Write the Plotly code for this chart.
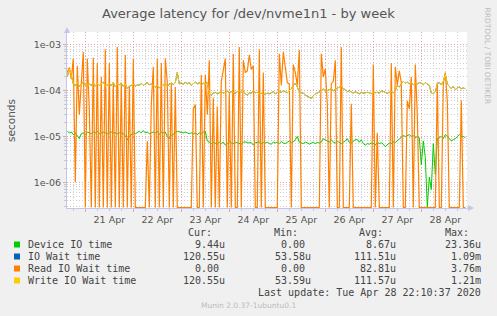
import plotly.graph_objects as go
import pandas as pd

# ---------------- data (microseconds, hourly samples) ----------------
start_time = "2020-04-20 15:00"
n_points = 200

device_io_us = [
    13, 12, 12.5, 11, 12, 10, 9, 11.5, 12, 11, 12.5, 12, 11.5, 12.5, 12, 13, 11.5, 12, 12.5, 12,
    11.5, 12, 12.5, 12, 12, 11.5, 12, 12, 11.5, 10.5, 8.5, 10, 11, 12, 11.5, 12.5, 13, 12, 13.5, 12,
    12.5, 11.5, 12, 12.5, 12, 13, 11, 12.5, 12, 12.5, 10, 9, 10.5, 11.5, 12, 13, 12.5, 12.5, 12, 12.5,
    12, 11.5, 12, 11.5, 12, 11, 12, 11.5, 12.5, 13, 8, 7.5, 7, 7.5, 7, 6.8, 7.5, 7, 7.5, 6.5,
    7, 7.8, 7.2, 7, 7.5, 7.3, 7, 6.8, 7.5, 7.6, 7.4, 7.2, 7.4, 6.5, 7.3, 7.5, 7.6, 7, 7.4, 7.2,
    7.5, 7, 6.8, 7.5, 7.2, 7.6, 7, 7.8, 7.2, 7, 7.5, 8, 7.3, 7.6, 8.5, 10, 7.5, 7.2, 7, 7.5,
    7.3, 6.8, 7.2, 7.5, 7, 7.4, 7.2, 7.5, 9, 8.5, 8, 7.5, 8.5, 7.5, 7.2, 7.8, 7.4, 7, 7.5, 8,
    9, 7.5, 7.2, 7.8, 8.5, 8.6, 7.5, 8.5, 7, 6.5, 7, 6.8, 7.2, 7, 6.5, 7.5, 7, 7.3, 6.8, 6,
    6.5, 7.2, 7, 7.6, 7.4, 8, 9, 9.5, 10.5, 10, 10.5, 11, 10, 10.5, 9.5, 10, 9.5, 2.4, 8, 3.5,
    0, 1.3, 0.7, 7, 1.5, 9, 9.5, 10, 9, 11, 10, 9, 8, 8.5, 9, 10, 11, 10, 10, 9.5,
]

write_wait_us = [
    200, 300, 220, 140, 130, 150, 125, 135, 160, 130, 120, 140, 130, 150, 125, 145, 130, 140, 155, 125,
    135, 140, 130, 150, 120, 140, 135, 145, 125, 140, 110, 125, 130, 140, 125, 135, 130, 145, 130, 140,
    150, 135, 140, 130, 120, 130, 115, 125, 135, 140, 125, 140, 145, 135, 150, 250, 140, 150, 135, 155,
    140, 150, 130, 145, 155, 140, 150, 135, 145, 140, 150, 85, 80, 88, 92, 85, 90, 95, 88, 92,
    98, 90, 95, 92, 88, 95, 100, 92, 98, 85, 80, 90, 88, 100, 90, 92, 85, 88, 82, 84,
    88, 85, 90, 95, 86, 90, 95, 92, 100, 95, 90, 100, 110, 130, 145, 120, 95, 90, 88, 80,
    75, 70, 68, 78, 85, 88, 92, 100, 110, 95, 100, 105, 110, 100, 105, 110, 120, 130, 110, 105,
    95, 100, 92, 88, 95, 90, 85, 92, 88, 90, 92, 90, 85, 95, 90, 92, 88, 100, 95, 90,
    88, 92, 95, 90, 100, 130, 120, 140, 160, 145, 155, 140, 150, 135, 145, 140, 150, 145, 135, 150,
    140, 130, 90, 85, 95, 140, 150, 135, 160, 230, 140, 120, 110, 125, 105, 115, 120, 110, 115, 110,
]

# IO wait time is drawn underneath the write wait time and matches it
io_wait_us = list(write_wait_us)

read_wait_us = [
    250, 320, 180, 500, 1, 350, 30, 160, 700, 0, 500, 40, 0, 520, 0, 400, 0, 200, 0, 800,
    0, 400, 0, 150, 0, 900, 0, 150, 0, 600, 0, 120, 0, 500, 0, 0, 0, 0, 0, 0,
    8, 0, 50, 330, 0, 500, 0, 400, 0, 500, 150, 0, 150, 0, 120, 0, 0, 0, 0, 0,
    0, 0, 0, 40, 50, 0, 0, 220, 0, 220, 30, 460, 0, 70, 0, 45, 0, 160, 300, 500,
    0, 90, 0, 640, 0, 0, 900, 0, 460, 250, 270, 600, 290, 350, 0, 0, 800, 0, 250, 0,
    0, 0, 0, 0, 0, 0, 640, 130, 700, 300, 150, 140, 0, 370, 250, 130, 770, 0, 0, 0,
    0, 0, 0, 0, 0, 0, 0, 640, 200, 300, 50, 0, 140, 160, 460, 0, 0, 900, 0, 0,
    0, 0, 52, 0, 0, 0, 0, 0, 0, 0, 0, 0, 0, 370, 0, 12, 0, 0, 0, 0,
    0, 0, 400, 0, 330, 130, 270, 150, 0, 0, 60, 40, 200, 0, 370, 30, 0, 0, 0, 0,
    0, 0, 0, 0, 0, 150, 0, 0, 140, 250, 60, 0, 0, 0, 0, 0, 0, 62, 0, 0,
]

series_names = ["Device IO time", "IO Wait time", "Read IO Wait time", "Write IO Wait time"]
series_colors = ["#00CC00", "#0066B3", "#FF8000", "#FFCC00"]
legend_cur = ["9.44u", "120.55u", "0.00", "120.55u"]
legend_min = ["0.00", "53.58u", "0.00", "53.59u"]
legend_avg = ["8.67u", "111.51u", "82.81u", "111.57u"]
legend_max = ["23.36u", "1.09m", "3.76m", "1.21m"]

y_tick_vals = [1e-6, 1e-5, 1e-4, 1e-3]
y_tick_text = ["1e-06", "1e-05", "1e-04", "1e-03"]

title_text = "Average latency for /dev/nvme1n1 - by week"
last_update = "Last update: Tue Apr 28 22:10:37 2020"
footer = "Munin 2.0.37-1ubuntu0.1"
side_text = "RRDTOOL / TOBI OETIKER"

# ---------------- figure ----------------
W, H = 497, 316
L, R, T, B = 67, 30, 32, 108
PW, PH = W - L - R, H - T - B
Y_LO, Y_HI = -6.56, -2.72
FLOOR = 10 ** -6.55  # zero values sit on the bottom edge, like rrdtool

times = pd.date_range(start_time, periods=n_points, freq="h")


def scaled(vals):
    return [v * 1e-6 if v > 0 else FLOOR for v in vals]


fig = go.Figure()
all_series = [device_io_us, io_wait_us, read_wait_us, write_wait_us]
widths = [1, 1, 1.2, 1]
for name, col, vals, w in zip(series_names, series_colors, all_series, widths):
    fig.add_trace(go.Scatter(x=times, y=scaled(vals), mode="lines", name=name,
                             line=dict(color=col, width=w), hoverinfo="skip",
                             showlegend=False))


def xp(px):
    return (px - L) / PW


def yp(py):
    return (T + PH - py) / PH


annotations = []


def ann(text, x, y, xanchor="left", size=10, color="#444444",
        family="DejaVu Sans Mono", angle=0):
    annotations.append(dict(text=text, x=xp(x), y=yp(y), xref="paper", yref="paper",
                            xanchor=xanchor, yanchor="middle", showarrow=False,
                            textangle=angle, font=dict(size=size, color=color, family=family)))


ann(title_text, 248, 13.5, xanchor="center", size=13, color="#555555", family="DejaVu Sans")
ann("seconds", 11, 120, xanchor="center", size=10.5, color="#555555", family="DejaVu Sans", angle=-90)
ann(side_text, 487.5, 56, xanchor="center", size=7.5, color="#BBBBBB", family="DejaVu Sans", angle=90)

row_y = [244.5, 256.5, 268.5, 280.5]
header_y = 232.5
for hdr, xr in zip(["Cur:", "Min:", "Avg:", "Max:"], [213.5, 299.5, 384.5, 470.5]):
    ann(hdr, xr, header_y, xanchor="right")

shapes = []
NB = "\u00a0"
col_right = [226.5, 312.5, 397.5, 483]
for r, (name, col) in enumerate(zip(series_names, series_colors)):
    y = row_y[r]
    shapes.append(dict(type="rect", xref="paper", yref="paper",
                       x0=xp(14), x1=xp(20), y0=yp(y + 3), y1=yp(y - 3),
                       fillcolor=col, line=dict(width=0)))
    ann(name, 26, y)
    for vals, xr in zip([legend_cur, legend_min, legend_avg, legend_max], col_right):
        v = vals[r]
        if not v.endswith(("u", "m")):
            v = v + NB
        ann(v, xr, y, xanchor="right")

ann(last_update, 483, 292.7, xanchor="right")
ann(footer, 248, 305.5, xanchor="center", size=7.5, color="#BBBBBB", family="DejaVu Sans")

# axis arrows
axis_col = "#C0C6F0"
shapes.append(dict(type="path", xref="paper", yref="paper",
                   path=f"M {xp(64)} {yp(33)} L {xp(70)} {yp(33)} L {xp(67)} {yp(27)} Z",
                   fillcolor=axis_col, line=dict(width=0)))
shapes.append(dict(type="path", xref="paper", yref="paper",
                   path=f"M {xp(468)} {yp(205)} L {xp(468)} {yp(211)} L {xp(474)} {yp(208)} Z",
                   fillcolor=axis_col, line=dict(width=0)))
shapes.append(dict(type="line", xref="paper", yref="paper",
                   x0=xp(467), x1=xp(470), y0=0, y1=0, line=dict(color=axis_col, width=1)))

minor_y = [m * 10.0 ** e for e in range(-7, -2) for m in range(2, 10)]
DOTS = "1px,2px"

fig.update_layout(
    width=W, height=H,
    margin=dict(l=L, r=R, t=T, b=B, pad=0),
    paper_bgcolor="#F0F0F0", plot_bgcolor="#FFFFFF",
    showlegend=False,
    annotations=annotations, shapes=shapes,
    xaxis=dict(
        type="date",
        range=["2020-04-20 14:51", "2020-04-28 22:51"],
        tick0="2020-04-21", dtick=86400000, tickformat="%d %b",
        ticklabelmode="period",
        showgrid=True, gridcolor="#F0A0A0", griddash=DOTS, gridwidth=1,
        ticks="outside", ticklen=3, tickcolor="#F0A0A0",
        tickfont=dict(family="DejaVu Sans", size=9.5, color="#555555"),
        showline=True, linecolor=axis_col, linewidth=1,
        zeroline=False, fixedrange=True,
        minor=dict(dtick=6 * 3600 * 1000, tick0="2020-04-21", showgrid=True,
                   gridcolor="#D0D0D0", griddash=DOTS, gridwidth=1,
                   ticks="outside", ticklen=2, tickcolor="#C8C8C8"),
    ),
    yaxis=dict(
        type="log", range=[Y_LO, Y_HI],
        tickmode="array", tickvals=y_tick_vals, ticktext=y_tick_text,
        showgrid=True, gridcolor="#F0A0A0", griddash=DOTS, gridwidth=1,
        ticks="outside", ticklen=3, tickcolor="#F0A0A0",
        tickfont=dict(family="DejaVu Sans", size=9.5, color="#555555"),
        showline=True, linecolor=axis_col, linewidth=1,
        zeroline=False, fixedrange=True,
        minor=dict(tickmode="array", tickvals=minor_y, showgrid=True,
                   gridcolor="#D0D0D0", griddash=DOTS, gridwidth=1,
                   ticks="outside", ticklen=2, tickcolor="#C8C8C8"),
    ),
)

fig.write_html("out.html")
